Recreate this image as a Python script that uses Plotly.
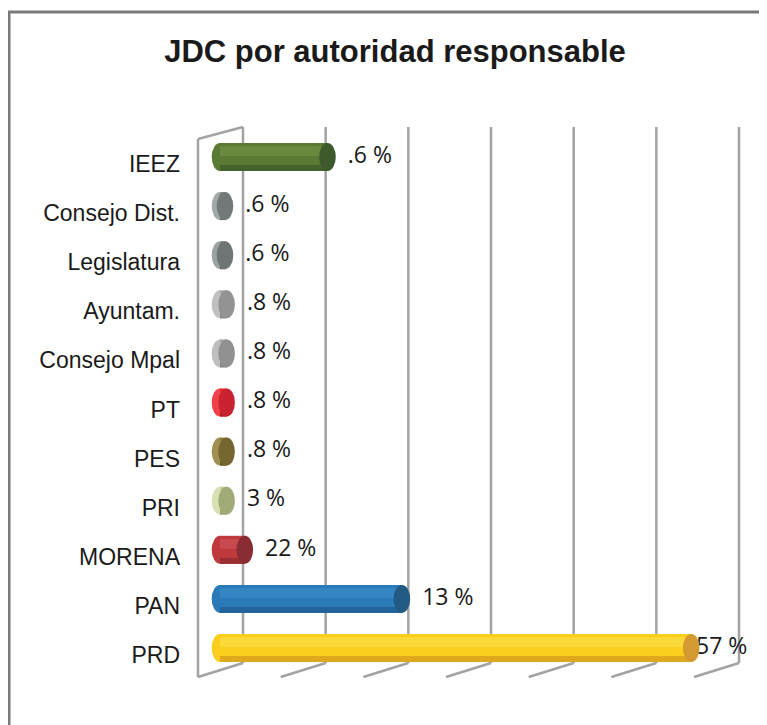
import plotly.graph_objects as go

# ---------------- data ----------------
categories = ["IEEZ", "Consejo Dist.", "Legislatura", "Ayuntam.", "Consejo Mpal",
              "PT", "PES", "PRI", "MORENA", "PAN", "PRD"]
bar_values = [13, 0.6, 0.6, 0.8, 0.8, 0.8, 0.8, 0.8, 3, 22, 57]
value_labels = [".6 %", ".6 %", ".6 %", ".8 %", ".8 %", ".8 %", ".8 %", "3 %", "22 %", "13 %", "57 %"]
grid_values = [0, 10, 20, 30, 40, 50, 60]
title_text = "JDC por autoridad responsable"

# ---------------- styles ----------------
body_col = ["#5b7b35", "#8c9190", "#858b8a", "#a8a8a8", "#a6a6a6", "#e8232b",
            "#8b7b3f", "#c5d09a", "#c0393d", "#2a7ab8", "#f9cf1c"]
light_col = ["#68893e", "#a4a8a7", "#9ea3a2", "#c0c0c0", "#bebebe", "#f04048",
             "#a08f50", "#d8e0b4", "#c94a4e", "#3385c3", "#fcd93a"]
dark_col = ["#46622b", "#6c7170", "#6a6f6e", "#888888", "#868686", "#b81c24",
            "#6a5d2e", "#9ea874", "#9a2e32", "#22639a", "#dea91c"]
cap_col = ["#3e5a2c", "#737978", "#6f7574", "#939393", "#919191", "#c92230",
           "#75652f", "#a0ab78", "#8a2c33", "#235a84", "#d29a30"]

OFF = 8                   # page body margin of the browser
W, H = 767 - OFF, 725 - OFF
# layout targets expressed in reference-picture pixels
PLOT_L, PLOT_R, PLOT_T, PLOT_B = 190, 762, 120, 685
ML, MR = PLOT_L - OFF, W - (PLOT_R - OFF)
MT, MB = PLOT_T - OFF, H - (PLOT_B - OFF)
PX_PER_UNIT = 8.267       # pixels per x unit
ZERO_PX = 220             # reference pixel of x = 0
ROW0_PX, ROW_PX = 157, 49.1

x_range = [(PLOT_L - ZERO_PX) / PX_PER_UNIT, (PLOT_R - ZERO_PX) / PX_PER_UNIT]
y_top = (PLOT_T - ROW0_PX) / ROW_PX
y_bot = (PLOT_B - ROW0_PX) / ROW_PX

def cy(py):
    return (py - ROW0_PX) / ROW_PX

def dx(px):
    return px / PX_PER_UNIT

BAR_W = 0.57
CAP_HALF = dx(8.3)
GRID_COLOR = "#a3a3a3"

fig = go.Figure()

# cylinder body with shading bands
fig.add_trace(go.Bar(y=categories, x=bar_values, orientation="h",
                     marker=dict(color=body_col, line=dict(width=0)),
                     width=BAR_W, offset=-BAR_W / 2, hoverinfo="skip"))
fig.add_trace(go.Bar(y=categories, x=bar_values, orientation="h",
                     marker=dict(color=light_col, line=dict(width=0)),
                     width=0.2, offset=-0.22, hoverinfo="skip"))
fig.add_trace(go.Bar(y=categories, x=bar_values, orientation="h",
                     marker=dict(color=dark_col, line=dict(width=0)),
                     width=0.12, offset=BAR_W / 2 - 0.12, hoverinfo="skip"))

shapes = []
# gridlines with 3D floor
back = dx(23)
front = dx(-22)
for g in grid_values:
    shapes.append(dict(type="line", xref="x", yref="y", x0=g + back, x1=g + back,
                       y0=cy(127), y1=cy(663), line=dict(color=GRID_COLOR, width=2.5),
                       layer="below"))
    shapes.append(dict(type="line", xref="x", yref="y", x0=g + back, x1=g + front,
                       y0=cy(663), y1=cy(677), line=dict(color=GRID_COLOR, width=2.5),
                       layer="below"))
# left side wall
g0 = grid_values[0]
shapes.append(dict(type="line", xref="x", yref="y", x0=g0 + back, x1=g0 + front,
                   y0=cy(127), y1=cy(139), line=dict(color=GRID_COLOR, width=2.5), layer="below"))
shapes.append(dict(type="line", xref="x", yref="y", x0=g0 + front, x1=g0 + front,
                   y0=cy(139), y1=cy(677), line=dict(color=GRID_COLOR, width=2.5), layer="below"))

# cylinder end caps
for i, v in enumerate(bar_values):
    shapes.append(dict(type="circle", xref="x", yref="y",
                       x0=-CAP_HALF, x1=CAP_HALF, y0=i - BAR_W / 2, y1=i + BAR_W / 2,
                       fillcolor=light_col[i] if v < 2 else body_col[i],
                       line=dict(width=0), layer="below"))
    shapes.append(dict(type="circle", xref="x", yref="y",
                       x0=v - CAP_HALF, x1=v + CAP_HALF, y0=i - BAR_W / 2, y1=i + BAR_W / 2,
                       fillcolor=cap_col[i], line=dict(width=0), layer="above"))

# outer frame
def paper_x(px):
    return (px - PLOT_L) / (PLOT_R - PLOT_L)

def paper_y(py):
    return 1 - (py - PLOT_T) / (PLOT_B - PLOT_T)

shapes.append(dict(type="rect", xref="paper", yref="paper",
                   x0=paper_x(9), x1=paper_x(800), y0=paper_y(760), y1=paper_y(12),
                   line=dict(color="#7a7a7a", width=3), fillcolor="rgba(0,0,0,0)", layer="above"))

# value labels
label_x = [min(v + CAP_HALF + dx(12), x_range[1] - dx(66)) for v in bar_values]
fig.add_trace(go.Scatter(y=categories, x=label_x, mode="text", text=value_labels,
                         textposition="middle right", cliponaxis=False,
                         textfont=dict(family="Open Sans", size=23, color="#1a1a1a"),
                         hoverinfo="skip"))

fig.update_layout(
    width=W, height=H,
    margin=dict(l=ML, r=MR, t=MT, b=MB),
    paper_bgcolor="white", plot_bgcolor="white",
    barmode="overlay", showlegend=False,
    shapes=shapes,
    title=dict(text=title_text, x=(395 - OFF) / W, xref="container", xanchor="center",
               y=1 - (51 - OFF) / H, yref="container", yanchor="middle",
               font=dict(family="Liberation Sans", size=31, color="#1a1a1a", weight="bold")),
    xaxis=dict(range=x_range, showgrid=False, zeroline=False, showticklabels=False,
               showline=False, fixedrange=True),
    yaxis=dict(type="category", categoryorder="array", categoryarray=categories,
               range=[y_bot, y_top], showgrid=False, zeroline=False, showline=False,
               ticks="", ticklabelstandoff=9, ticklabelshift=-7,
               tickfont=dict(family="Liberation Sans", size=23, color="#1a1a1a")),
)

fig.write_html("out.html")
